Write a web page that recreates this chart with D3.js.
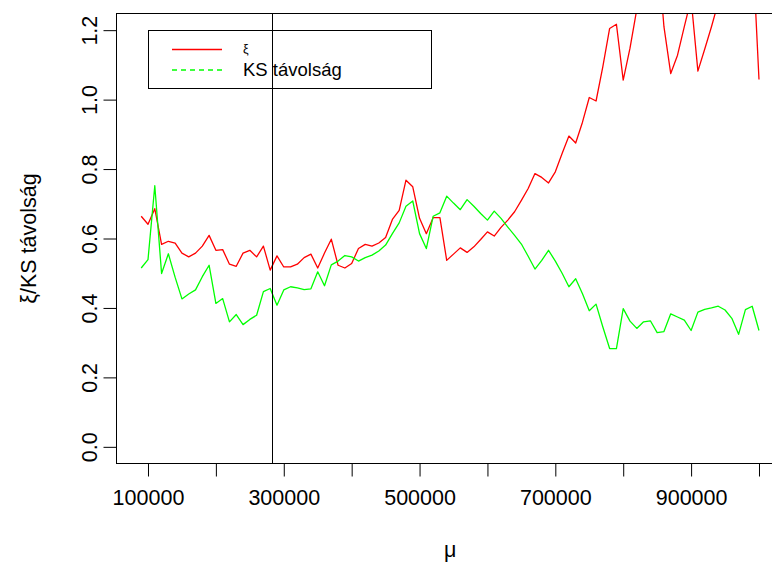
<!DOCTYPE html>
<html>
<head>
<meta charset="utf-8">
<script src="https://cdn.jsdelivr.net/npm/d3@7"></script>
<style>
  html, body { margin: 0; padding: 0; background: #fff; }
  svg { display: block; }
  text { font-family: "Liberation Sans", Arial, sans-serif; fill: #000; }
</style>
</head>
<body>
<script>
// ---- data ----
const mu = [90000,100000,110000,120000,130000,140000,150000,160000,170000,180000,
  190000,200000,210000,220000,230000,240000,250000,260000,270000,280000,
  290000,300000,310000,320000,330000,340000,350000,360000,370000,380000,
  390000,400000,410000,420000,430000,440000,450000,460000,470000,480000,
  490000,500000,510000,520000,530000,540000,550000,560000,570000,580000,
  590000,600000,610000,620000,630000,640000,650000,660000,670000,680000,
  690000,700000,710000,720000,730000,740000,750000,760000,770000,780000,
  790000,800000,810000,820000,830000,840000,850000,860000,870000,880000,
  890000,900000,910000,920000,930000,940000,950000,960000,970000,980000,
  990000,1000000];

const xi = [0.664,0.641,0.686,0.583,0.592,0.587,0.558,0.547,0.558,0.578,
  0.609,0.566,0.568,0.526,0.520,0.558,0.566,0.547,0.578,0.509,
  0.550,0.518,0.518,0.526,0.545,0.555,0.515,0.558,0.598,0.523,
  0.515,0.528,0.571,0.583,0.578,0.587,0.603,0.655,0.681,0.768,
  0.749,0.658,0.614,0.660,0.660,0.537,0.555,0.573,0.560,0.576,
  0.597,0.619,0.607,0.632,0.653,0.677,0.710,0.744,0.787,0.776,
  0.760,0.792,0.845,0.895,0.875,0.935,1.006,0.996,1.095,1.205,
  1.217,1.056,1.148,1.26,1.38,1.42,1.45,1.21,1.075,1.128,
  1.21,1.29,1.082,1.145,1.21,1.28,1.36,1.42,1.47,1.50,
  1.46,1.058];

const ks = [0.515,0.539,0.752,0.499,0.556,0.488,0.426,0.440,0.452,0.490,
  0.523,0.413,0.427,0.360,0.381,0.352,0.367,0.379,0.447,0.456,
  0.408,0.452,0.461,0.458,0.453,0.455,0.504,0.464,0.524,0.535,
  0.551,0.547,0.535,0.545,0.552,0.564,0.581,0.614,0.645,0.693,
  0.708,0.614,0.571,0.664,0.674,0.722,0.702,0.683,0.712,0.693,
  0.672,0.653,0.679,0.658,0.633,0.609,0.584,0.549,0.512,0.537,
  0.566,0.535,0.500,0.461,0.484,0.441,0.392,0.411,0.345,0.283,
  0.283,0.398,0.362,0.341,0.360,0.363,0.329,0.332,0.383,0.374,
  0.365,0.335,0.388,0.396,0.400,0.405,0.394,0.370,0.324,0.395,
  0.405,0.335];

const vline = 283650;

const xTicks = [100000,200000,300000,400000,500000,600000,700000,800000,900000,1000000];
const xTickLabels = ["100000","","300000","","500000","","700000","","900000",""];
const yTicks = [0.0,0.2,0.4,0.6,0.8,1.0,1.2];
const yTickLabels = ["0.0","0.2","0.4","0.6","0.8","1.0","1.2"];

const xTitle = "μ";
const yTitle = "ξ/KS távolság";
const legendLabels = ["ξ", "KS távolság"];
const seriesColors = ["#ff0000", "#00ff00"];

// ---- layout ----
const W = 772, H = 565;
const L = 116.5, R = 783.7, T = 13.5, B = 463.5;
const FS = 21.5;      // axis text
const FSL = 18.5;     // legend text

const svg = d3.select("body").append("svg").attr("width", W).attr("height", H);

const x = d3.scaleLinear().domain([53600, 1036400]).range([L, R]);
const y = d3.scaleLinear().domain([-0.048, 1.248]).range([B, T]);

svg.append("clipPath").attr("id", "clip")
  .append("rect").attr("x", L).attr("y", T).attr("width", R - L).attr("height", B - T);

const plot = svg.append("g").attr("clip-path", "url(#clip)");

const line = d3.line().x((d, i) => x(mu[i])).y(d => y(d));

plot.append("path").datum(xi).attr("d", line)
  .attr("fill", "none").attr("stroke", seriesColors[0]).attr("stroke-width", 1.3)
  .attr("stroke-linejoin", "round");
plot.append("path").datum(ks).attr("d", line)
  .attr("fill", "none").attr("stroke", seriesColors[1]).attr("stroke-width", 1.3)
  .attr("stroke-linejoin", "round");

// box
svg.append("rect").attr("x", L).attr("y", T).attr("width", R - L).attr("height", B - T)
  .attr("fill", "none").attr("stroke", "#000").attr("stroke-width", 1);

// x axis
const xAxis = d3.axisBottom(x).tickValues(xTicks).tickSize(13).tickSizeOuter(0)
  .tickFormat((d, i) => xTickLabels[i]);
const gx = svg.append("g").attr("transform", `translate(0,${B})`).call(xAxis);
gx.select(".domain").remove();
gx.selectAll(".tick line").attr("stroke", "#000");
gx.selectAll(".tick text").attr("y", 41.5).attr("dy", 0)
  .style("font-size", FS + "px").style("font-family", '"Liberation Sans", Arial, sans-serif')
  .attr("fill", "#000");

// y axis
const yAxis = d3.axisLeft(y).tickValues(yTicks).tickSize(13).tickSizeOuter(0)
  .tickFormat((d, i) => yTickLabels[i]);
const gy = svg.append("g").attr("transform", `translate(${L},0)`).call(yAxis);
gy.select(".domain").remove();
gy.selectAll(".tick line").attr("stroke", "#000");
gy.selectAll(".tick text")
  .attr("x", null).attr("dy", null)
  .attr("text-anchor", "middle")
  .attr("transform", "translate(-19.5,0) rotate(-90)")
  .style("font-size", FS + "px").style("font-family", '"Liberation Sans", Arial, sans-serif')
  .attr("fill", "#000");

// axis titles
svg.append("text").attr("x", (L + R) / 2).attr("y", 557)
  .attr("text-anchor", "middle").style("font-size", FS + "px").text(xTitle);
svg.append("text").attr("transform", `translate(36,${(T + B) / 2}) rotate(-90)`)
  .attr("text-anchor", "middle").style("font-size", FS + "px").text(yTitle);

// legend
const lg = svg.append("g");
lg.append("rect").attr("x", 148.5).attr("y", 30.5).attr("width", 283).attr("height", 58)
  .attr("fill", "#fff").attr("stroke", "#000").attr("stroke-width", 1);
lg.append("line").attr("x1", 172).attr("x2", 222).attr("y1", 49.5).attr("y2", 49.5)
  .attr("stroke", seriesColors[0]).attr("stroke-width", 1.3);
lg.append("line").attr("x1", 172).attr("x2", 222).attr("y1", 70).attr("y2", 70)
  .attr("stroke", seriesColors[1]).attr("stroke-width", 1.3).attr("stroke-dasharray", "5,4");
lg.append("text").attr("x", 243).attr("y", 52.5).style("font-size", "12.5px").text(legendLabels[0]);
lg.append("text").attr("x", 243).attr("y", 75.5).style("font-size", FSL + "px").text(legendLabels[1]);

// vertical reference line (drawn last, over the legend)
svg.append("line")
  .attr("x1", Math.round(x(vline)) - 0.5).attr("x2", Math.round(x(vline)) - 0.5)
  .attr("y1", T).attr("y2", B)
  .attr("stroke", "#000").attr("stroke-width", 1);
</script>
</body>
</html>
